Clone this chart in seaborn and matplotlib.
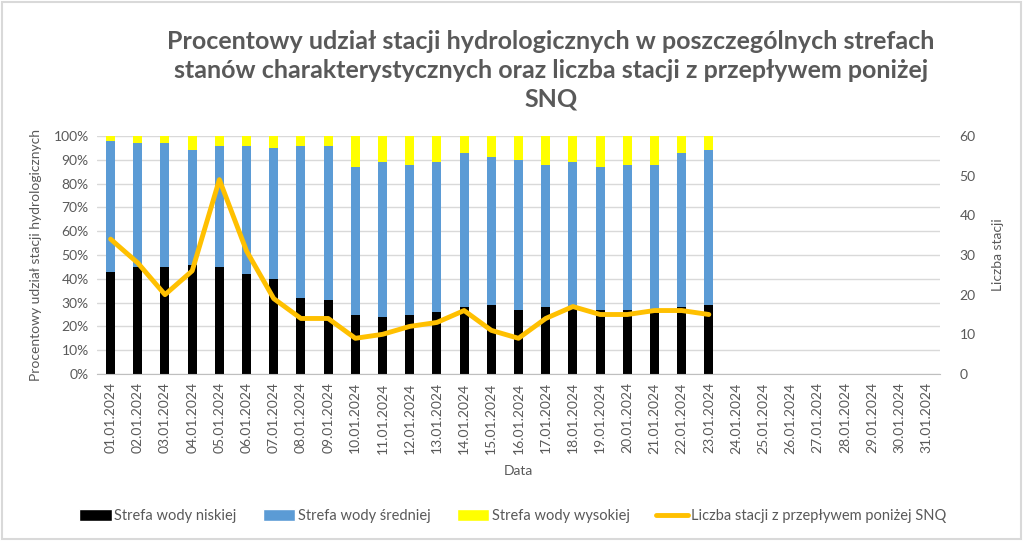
# Procentowy udział stacji hydrologicznych w strefach stanów + liczba stacji poniżej SNQ
import matplotlib
import numpy as np
import pandas as pd
import seaborn as sns

matplotlib.use("Agg")
import matplotlib.pyplot as plt
from matplotlib.patches import Patch, Rectangle
from matplotlib.lines import Line2D
from matplotlib.ticker import FixedLocator

all_dates = [f"{d:02d}.01.2024" for d in range(1, 32)]
data_dates = all_dates[:23]

strefa_niska = [43, 45, 45, 46, 45, 42, 40, 32, 31, 25, 24, 25, 26, 28, 29, 27, 28, 28, 27, 27, 27, 28, 29]
strefa_srednia = [55, 52, 52, 48, 51, 54, 55, 64, 65, 62, 65, 63, 63, 65, 62, 63, 60, 61, 60, 61, 61, 65, 65]
strefa_wysoka = [2, 3, 3, 6, 4, 4, 5, 4, 4, 13, 11, 12, 11, 7, 9, 10, 12, 11, 13, 12, 12, 7, 6]
liczba_snq = [34, 28, 20, 26, 49, 31, 19, 14, 14, 9, 10, 12, 13, 16, 11, 9, 14, 17, 15, 15, 16, 16, 15]

c_low, c_mid, c_high, c_line = "#000000", "#5B9BD5", "#FFFF00", "#FFC000"
grey = "#595959"

sns.set_style("white")
plt.rcParams["font.family"] = ["Lato", "DejaVu Sans"]

df = pd.DataFrame({
    "Data": data_dates,
    "niska": strefa_niska,
    "srednia": strefa_srednia,
    "wysoka": strefa_wysoka,
})
df["top_mid"] = df["niska"] + df["srednia"]
df["top_high"] = df["top_mid"] + df["wysoka"]

fig = plt.figure(figsize=(10.24, 5.41), dpi=100)
ax = fig.add_axes([97 / 1024, 1 - 374 / 541, (940 - 97) / 1024, (374 - 136) / 541])

for col, color in [("top_high", c_high), ("top_mid", c_mid), ("niska", c_low)]:
    sns.barplot(data=df, x="Data", y=col, order=all_dates, color=color,
                saturation=1, width=0.33, ax=ax, linewidth=0)

ax.set_xlim(-0.5, len(all_dates) - 0.5)
ax.set_ylim(0, 100)
ax.set_yticks(np.arange(0, 101, 10))
ax.set_yticklabels([f"{v}%" for v in range(0, 101, 10)])
ax.set_axisbelow(True)
ax.yaxis.grid(True, color="#d9d9d9", lw=1)
for s in ["top", "right", "left"]:
    ax.spines[s].set_visible(False)
ax.spines["bottom"].set_color("#bfbfbf")
ax.tick_params(axis="y", length=0, labelsize=10, labelcolor=grey, pad=6)
ax.tick_params(axis="x", length=0, labelsize=10, labelcolor=grey, rotation=90, pad=6)
ax.xaxis.set_minor_locator(FixedLocator(np.arange(-0.5, len(all_dates), 1)))
ax.tick_params(axis="x", which="minor", length=5, color="#bfbfbf")
ax.set_xlabel("Data", fontsize=10, color=grey, labelpad=8)
ax.set_ylabel("Procentowy udział stacji hydrologicznych", fontsize=10, color=grey, labelpad=8)

ax2 = ax.twinx()
sns.lineplot(x=np.arange(len(liczba_snq)), y=liczba_snq, ax=ax2, color=c_line,
             lw=3.5, solid_joinstyle="round", solid_capstyle="round")
ax2.set_ylim(0, 60)
ax2.set_yticks(range(0, 61, 10))
for s in ax2.spines.values():
    s.set_visible(False)
ax2.tick_params(axis="y", length=0, labelsize=10, labelcolor=grey, pad=14)
ax2.set_ylabel("Liczba stacji", fontsize=10, color=grey, labelpad=12)

fig.text(551 / 1024, 1 - 70 / 541,
         "Procentowy udział stacji hydrologicznych w poszczególnych strefach\n"
         "stanów charakterystycznych oraz liczba stacji z przepływem poniżej\nSNQ",
         ha="center", va="center", fontsize=18, fontweight="bold", color=grey,
         linespacing=1.3)

handles = [
    Patch(facecolor=c_low, label="Strefa wody niskiej"),
    Patch(facecolor=c_mid, label="Strefa wody średniej"),
    Patch(facecolor=c_high, label="Strefa wody wysokiej"),
    Line2D([], [], color=c_line, lw=3.5, label="Liczba stacji z przepływem poniżej SNQ"),
]
leg = fig.legend(handles=handles, loc="center", bbox_to_anchor=(513 / 1024, 1 - 516 / 541),
                 ncol=4, frameon=False, fontsize=10.5, columnspacing=1.8,
                 handlelength=2.2, handleheight=0.8, handletextpad=0.2)
for t in leg.get_texts():
    t.set_color(grey)

fig.patches.append(Rectangle((0.002, 0.003), 0.995, 0.993, transform=fig.transFigure,
                             fill=False, edgecolor="#d9d9d9", lw=1.5))

fig.savefig("out.png", dpi=100)
